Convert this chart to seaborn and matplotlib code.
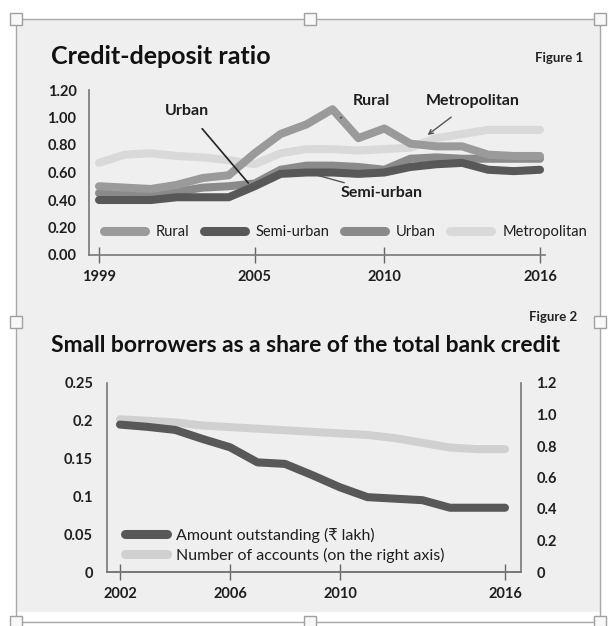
import matplotlib
matplotlib.use("Agg")
import matplotlib.pyplot as plt
from matplotlib.patches import Rectangle
from matplotlib.lines import Line2D
import seaborn as sns
import pandas as pd

# ---------------- data ----------------
years1 = list(range(1999, 2017))
rural = [0.50, 0.49, 0.48, 0.51, 0.56, 0.58, 0.74, 0.88, 0.95, 1.06, 0.85, 0.92, 0.81, 0.79, 0.79, 0.73, 0.72, 0.72]
semi_urban = [0.40, 0.40, 0.40, 0.42, 0.42, 0.42, 0.50, 0.59, 0.60, 0.60, 0.59, 0.60, 0.64, 0.66, 0.67, 0.62, 0.61, 0.62]
urban = [0.45, 0.44, 0.44, 0.46, 0.49, 0.50, 0.52, 0.62, 0.65, 0.65, 0.64, 0.62, 0.70, 0.71, 0.70, 0.70, 0.70, 0.70]
metropolitan = [0.67, 0.73, 0.74, 0.72, 0.71, 0.69, 0.66, 0.74, 0.77, 0.77, 0.76, 0.77, 0.78, 0.85, 0.88, 0.91, 0.91, 0.91]
regions = ["Rural", "Semi-urban", "Urban", "Metropolitan"]
y1_ticks = [0.0, 0.2, 0.4, 0.6, 0.8, 1.0, 1.2]
x1_ticks = [1999, 2005, 2010, 2016]

years2 = list(range(2002, 2017))
amount_outstanding = [0.195, 0.192, 0.188, 0.176, 0.165, 0.145, 0.143, 0.128, 0.112, 0.099, 0.097, 0.095, 0.085, 0.085, 0.085]
num_accounts = [0.97, 0.96, 0.95, 0.93, 0.92, 0.91, 0.90, 0.89, 0.88, 0.87, 0.85, 0.82, 0.79, 0.78, 0.78]
series2 = ["Amount outstanding (\u20b9 lakh)", "Number of accounts (on the right axis)"]
y2_left_ticks = [0, 0.05, 0.1, 0.15, 0.2, 0.25]
y2_left_labels = ["0", "0.05", "0.1", "0.15", "0.2", "0.25"]
y2_right_ticks = [0, 0.2, 0.4, 0.6, 0.8, 1.0, 1.2]
y2_right_labels = ["0", "0.2", "0.4", "0.6", "0.8", "1.0", "1.2"]
x2_ticks = [2002, 2006, 2010, 2016]

# ---------------- style ----------------
sns.set_theme(style="white")
plt.rcParams["font.family"] = ["Lato", "DejaVu Sans"]
TXT = "#1e1e1e"
BG = "#efefef"

W, H = 608, 626
fig = plt.figure(figsize=(W / 100, H / 100), dpi=100)
fig.patch.set_facecolor("white")

def fx(px):
    return px / W

def fy(py):
    return 1 - py / H

# background panel and frame
fig.patches.append(Rectangle((fx(16), fy(612)), fx(600) - fx(16), fy(19) - fy(612),
                             transform=fig.transFigure, facecolor=BG, edgecolor="none", zorder=-10))
fig.patches.append(Rectangle((fx(16), fy(622)), fx(600) - fx(16), fy(19) - fy(622),
                             transform=fig.transFigure, facecolor="none", edgecolor="#a8a8a8", lw=1.0, zorder=-5))
for hx, hy in [(16, 19), (310, 19), (600, 19), (16, 322), (600, 322), (16, 622), (310, 622), (600, 622)]:
    fig.patches.append(Rectangle((fx(hx - 6), fy(hy + 6)), 12 / W, 12 / H, transform=fig.transFigure,
                                 facecolor="#f8f8f8", edgecolor="#a0a0a0", lw=1.0, zorder=-4))

# ---------------- Figure 1 ----------------
pal1 = {"Rural": "#9a9a9a", "Semi-urban": "#585858", "Urban": "#8a8a8a", "Metropolitan": "#d9d9d9"}
df1 = pd.DataFrame({
    "year": years1 * 4,
    "ratio": rural + semi_urban + urban + metropolitan,
    "region": sum([[r] * len(years1) for r in regions], []),
})
ax1 = fig.add_axes([fx(89), fy(255), fx(545) - fx(89), fy(90) - fy(255)])
ax1.set_facecolor("none")
draw_order = ["Metropolitan", "Urban", "Rural", "Semi-urban"]
for r in draw_order:
    sns.lineplot(data=df1[df1.region == r], x="year", y="ratio", color=pal1[r], lw=5.8,
                 ax=ax1, legend=False, solid_capstyle="round", solid_joinstyle="round")
ax1.set_xlim(1999 - 10 / 25.9, 2016 + 5 / 25.9)
ax1.set_ylim(0, 1.2)
ax1.set_xlabel("")
ax1.set_ylabel("")
ax1.set_xticks(x1_ticks)
ax1.set_xticklabels([str(x) for x in x1_ticks])
ax1.set_yticks(y1_ticks)
ax1.set_yticklabels([f"{v:.2f}" for v in y1_ticks])
for s in ["top", "right"]:
    ax1.spines[s].set_visible(False)
for s in ["left", "bottom"]:
    ax1.spines[s].set_color("#777777")
    ax1.spines[s].set_linewidth(1.2)
ax1.tick_params(axis="x", direction="inout", length=12, width=1.0, color="#666666", pad=5,
                labelsize=10.5, labelcolor=TXT, bottom=True)
ax1.tick_params(axis="y", length=0, pad=9, labelsize=10.5, labelcolor=TXT)
for lab in ax1.get_xticklabels() + ax1.get_yticklabels():
    lab.set_fontweight("bold")

handles1 = [Line2D([0], [0], color=pal1[r], lw=6.5, solid_capstyle="round") for r in regions]
ax1.legend(handles1, regions, loc="center left", bbox_to_anchor=((104 - 89) / (545 - 89), 0.167 / 1.2),
           ncol=4, frameon=False, handlelength=2.8, handletextpad=0.75, columnspacing=1.0,
           fontsize=10.5, borderaxespad=0, borderpad=0, labelcolor=TXT)

def d1(px, py):
    return (1999 + (px - 99) / 25.9, (255 - py) / 137.5)

ann_kw = dict(fontsize=11.5, fontweight="bold", color=TXT, ha="center", va="center")
ax1.annotate("Urban", xy=d1(248, 183), xytext=d1(187, 111),
             arrowprops=dict(arrowstyle="-", color="#222222", lw=1.2, shrinkA=7, shrinkB=0), **ann_kw)
ax1.annotate("Rural", xy=d1(340, 118), xytext=d1(371, 101),
             arrowprops=dict(arrowstyle="-", color="#444444", lw=1.0, shrinkA=9, shrinkB=0), **ann_kw)
ax1.annotate("Metropolitan", xy=d1(427, 135), xytext=d1(472, 101),
             arrowprops=dict(arrowstyle="->", color="#555555", lw=1.0, shrinkA=7, shrinkB=0,
                             mutation_scale=8), **ann_kw)
ax1.annotate("Semi-urban", xy=d1(316, 175), xytext=d1(381, 193),
             arrowprops=dict(arrowstyle="-", color="#555555", lw=1.0, shrinkA=30, shrinkB=0), **ann_kw)

fig.text(fx(51), fy(57), "Credit-deposit ratio", fontsize=18, fontweight="bold", color="#111111",
         ha="left", va="center")
fig.text(fx(583), fy(58), "Figure 1", fontsize=9.5, fontweight="bold", color="#222222", ha="right", va="center")

# ---------------- Figure 2 ----------------
fig.text(fx(577), fy(317), "Figure 2", fontsize=9.5, fontweight="bold", color="#222222", ha="right", va="center")
fig.text(fx(51), fy(345), "Small borrowers as a share of the total bank credit", fontsize=16.5,
         fontweight="bold", color="#111111", ha="left", va="center")

c_amt, c_acc = "#585858", "#d0d0d0"
df2 = pd.DataFrame({"year": years2, "amount": amount_outstanding, "accounts": num_accounts})
ax2 = fig.add_axes([fx(107), fy(572), fx(521) - fx(107), fy(383) - fy(572)])
ax2.set_facecolor("none")
ax3 = ax2.twinx()
ax3.set_facecolor("none")
ax2.set_zorder(ax3.get_zorder() + 1)
sns.lineplot(data=df2, x="year", y="accounts", color=c_acc, lw=5.8, ax=ax3, legend=False,
             solid_capstyle="round", solid_joinstyle="round")
sns.lineplot(data=df2, x="year", y="amount", color=c_amt, lw=5.8, ax=ax2, legend=False,
             solid_capstyle="round", solid_joinstyle="round")
ax2.set_xlim(2002 - 13 / 27.5, 2016 + 16 / 27.5)
ax2.set_ylim(0, 0.25)
ax3.set_ylim(0, 1.2)
for a in (ax2, ax3):
    a.set_xlabel("")
    a.set_ylabel("")
    a.spines["top"].set_visible(False)
    for s in ["left", "right", "bottom"]:
        a.spines[s].set_color("#777777")
        a.spines[s].set_linewidth(1.2)
ax2.spines["right"].set_visible(False)
ax3.spines["left"].set_visible(False)
ax2.set_xticks(x2_ticks)
ax2.set_xticklabels([str(x) for x in x2_ticks])
ax2.set_yticks(y2_left_ticks)
ax2.set_yticklabels(y2_left_labels)
ax3.set_yticks(y2_right_ticks)
ax3.set_yticklabels(y2_right_labels)
ax2.tick_params(axis="x", direction="inout", length=12, width=1.0, color="#666666", pad=5,
                labelsize=10.5, labelcolor=TXT, bottom=True)
ax2.tick_params(axis="y", length=0, pad=10, labelsize=10.5, labelcolor=TXT)
ax3.tick_params(axis="y", length=0, pad=11, labelsize=10.5, labelcolor=TXT)
for lab in ax2.get_xticklabels() + ax2.get_yticklabels() + ax3.get_yticklabels():
    lab.set_fontweight("bold")

handles2 = [Line2D([0], [0], color=c_amt, lw=6.5, solid_capstyle="round"),
            Line2D([0], [0], color=c_acc, lw=6.5, solid_capstyle="round")]
ax2.legend(handles2, series2, loc="upper left",
           bbox_to_anchor=((125 - 107) / 414, (572 - 528) / 189),
           frameon=False, handlelength=2.6, handletextpad=0.6, labelspacing=0.3,
           fontsize=11.5, borderaxespad=0, borderpad=0, labelcolor=TXT)

fig.savefig("out.png", dpi=100, facecolor=fig.get_facecolor())
